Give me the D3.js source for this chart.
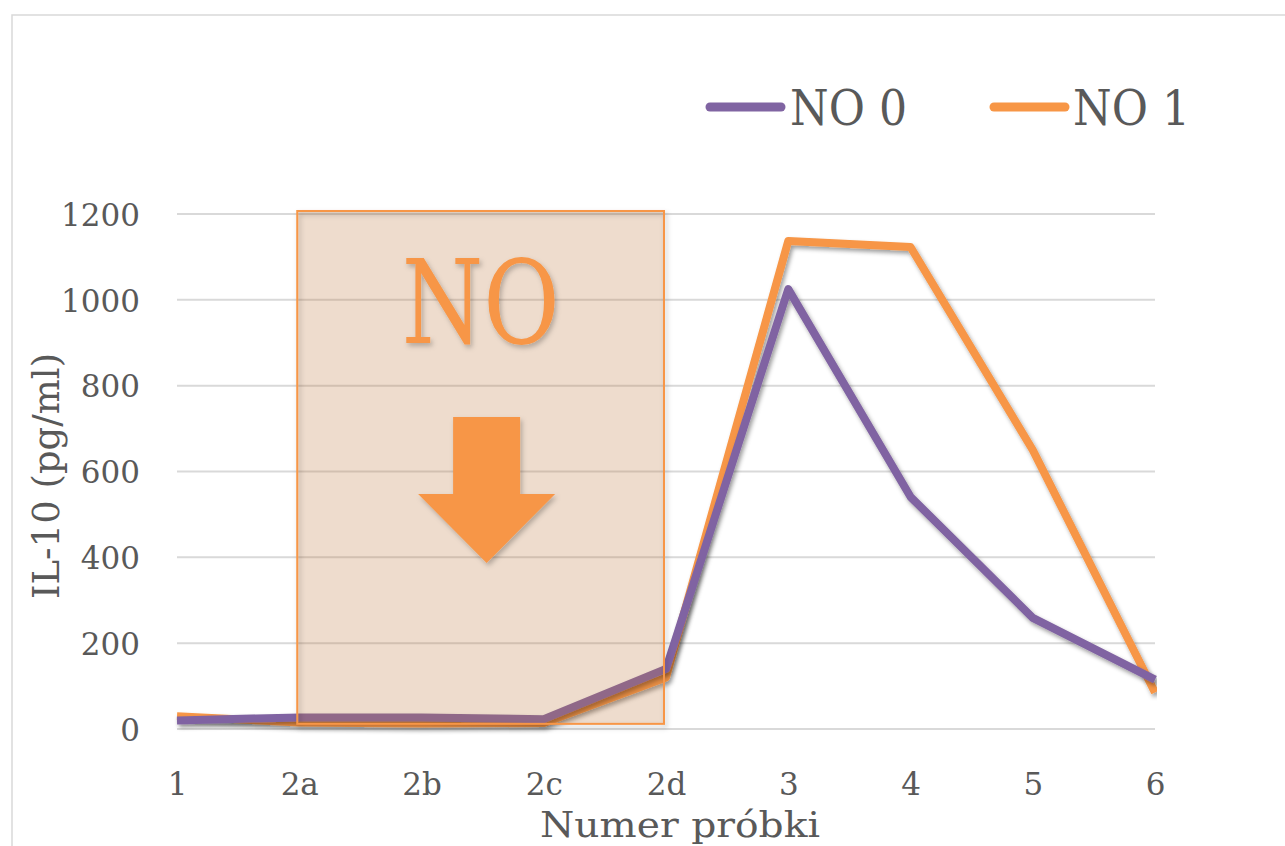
<!DOCTYPE html>
<html>
<head>
<meta charset="utf-8">
<script src="https://cdn.jsdelivr.net/npm/d3@7"></script>
<style>
  html, body { margin: 0; padding: 0; background: #fff; }
  svg { display: block; }
  text { font-family: "DejaVu Serif", "Liberation Serif", serif; fill: #595959; }
</style>
</head>
<body>
<svg id="chart" width="1285" height="846"></svg>
<script>
// Sample identifiers along the x axis
const categories = ["1", "2a", "2b", "2c", "2d", "3", "4", "5", "6"];
// IL-10 concentration (pg/ml) for each series
const no0 = [20, 27, 27, 23, 140, 1025, 541, 259, 115];
const no1 = [30, 15, 13, 14, 120, 1137, 1123, 650, 85];
const seriesNames = ["NO 0", "NO 1"];
const yTicks = [0, 200, 400, 600, 800, 1000, 1200];
// NO exposure window (shaded band)
const windowFrom = "2a";
const windowTo = "2d";
const windowLow = 12;
const windowHigh = 1207;

const colors = { "NO 0": "#8064a2", "NO 1": "#f79646" };

const svg = d3.select("#chart");
const W = 1285, H = 846;

const x = d3.scalePoint().domain(categories).range([177, 1155]);
const y = d3.scaleLinear().domain([0, 1200]).range([729, 214]);

// filters
const defs = svg.append("defs");
const sh = defs.append("filter").attr("id", "shadow")
  .attr("x", "-10%").attr("y", "-10%").attr("width", "130%").attr("height", "130%");
sh.append("feDropShadow").attr("dx", 2).attr("dy", 3).attr("stdDeviation", 2)
  .attr("flood-color", "#000").attr("flood-opacity", 0.38);
const sh2 = defs.append("filter").attr("id", "softShadow")
  .attr("x", "-10%").attr("y", "-10%").attr("width", "130%").attr("height", "130%");
sh2.append("feDropShadow").attr("dx", 2).attr("dy", 3).attr("stdDeviation", 2.5)
  .attr("flood-color", "#000").attr("flood-opacity", 0.25);
defs.append("clipPath").attr("id", "plotClip")
  .append("rect").attr("x", 0).attr("y", 0).attr("width", 1157).attr("height", H);

// chart area border
svg.append("path")
  .attr("d", `M12,${H} L12,15 L${W},15`)
  .attr("fill", "none").attr("stroke", "#d9d9d9").attr("stroke-width", 1.5);

// horizontal gridlines
svg.append("g").selectAll("line").data(yTicks).join("line")
  .attr("x1", x(categories[0])).attr("x2", x(categories[categories.length - 1]))
  .attr("y1", d => y(d)).attr("y2", d => y(d))
  .attr("stroke", "#d9d9d9").attr("stroke-width", 2);

// y axis labels
const yAxis = d3.axisLeft(y).tickValues(yTicks).tickSize(0).tickPadding(0).tickFormat(d3.format("d"));
const gy = svg.append("g").attr("transform", "translate(140,0)").call(yAxis);
gy.select(".domain").remove();
gy.selectAll("text").attr("font-size", 31).attr("font-family", "DejaVu Serif")
  .attr("fill", "#595959").attr("dy", "0.36em");

// x axis labels
const xAxis = d3.axisBottom(x).tickSize(0).tickPadding(0);
const gx = svg.append("g").attr("transform", "translate(0,795)").call(xAxis);
gx.select(".domain").remove();
gx.selectAll("text").attr("font-size", 31).attr("font-family", "DejaVu Serif")
  .attr("fill", "#595959").attr("dy", 0);

// axis titles
svg.append("text").attr("x", 680).attr("y", 837).attr("text-anchor", "middle")
  .attr("font-size", 36).attr("textLength", 280).attr("lengthAdjust", "spacingAndGlyphs")
  .text("Numer próbki");
svg.append("text").attr("transform", "translate(59,476) rotate(-90)")
  .attr("text-anchor", "middle").attr("font-size", 37).text("IL-10 (pg/ml)");

// series lines
const line = d3.line().x((d, i) => x(categories[i])).y(d => y(d));
const series = [
  { name: "NO 1", values: no1 },
  { name: "NO 0", values: no0 }
];
const gl = svg.append("g").attr("clip-path", "url(#plotClip)");
gl.selectAll("path").data(series).join("path")
  .attr("d", d => line(d.values))
  .attr("fill", "none")
  .attr("stroke", d => colors[d.name])
  .attr("stroke-width", 8)
  .attr("stroke-linejoin", "round")
  .attr("filter", "url(#shadow)");

// NO exposure window annotation: translucent fill, then outlined frame with shadow
const bx0 = x(windowFrom) - 2, bx1 = x(windowTo) - 2;
const by0 = y(windowHigh), by1 = y(windowLow);
svg.append("rect")
  .attr("x", bx0).attr("y", by0).attr("width", bx1 - bx0).attr("height", by1 - by0)
  .attr("fill", "rgb(190,120,60)").attr("fill-opacity", 0.26);
svg.append("rect")
  .attr("x", bx0).attr("y", by0).attr("width", bx1 - bx0).attr("height", by1 - by0)
  .attr("fill", "none")
  .attr("stroke", "#f79646").attr("stroke-width", 2)
  .attr("filter", "url(#softShadow)");

const cx = (bx0 + bx1) / 2;
svg.append("text").attr("x", cx).attr("y", 343).attr("text-anchor", "middle")
  .attr("font-size", 116).attr("textLength", 158).attr("lengthAdjust", "spacingAndGlyphs")
  .style("fill", "#f79646").attr("filter", "url(#softShadow)").text("NO");

const ax = cx + 6;
const arrowPts = [
  [ax - 33.5, 417], [ax + 33.5, 417], [ax + 33.5, 494], [ax + 68.5, 494],
  [ax, 563], [ax - 68.5, 494], [ax - 33.5, 494]
];
svg.append("polygon").attr("points", arrowPts.map(p => p.join(",")).join(" "))
  .attr("fill", "#f79646").attr("filter", "url(#softShadow)");

// legend
const legendPos = [{ lx: 706, tx: 790 }, { lx: 990, tx: 1073 }];
const lg = svg.append("g");
seriesNames.forEach((name, i) => {
  const p = legendPos[i];
  lg.append("line").attr("x1", p.lx + 4).attr("x2", p.lx + 75).attr("y1", 107).attr("y2", 107)
    .attr("stroke", colors[name]).attr("stroke-width", 9).attr("stroke-linecap", "round");
  lg.append("text").attr("x", p.tx).attr("y", 125).attr("font-size", 48)
    .attr("textLength", 117).attr("lengthAdjust", "spacingAndGlyphs").text(name);
});
</script>
</body>
</html>
